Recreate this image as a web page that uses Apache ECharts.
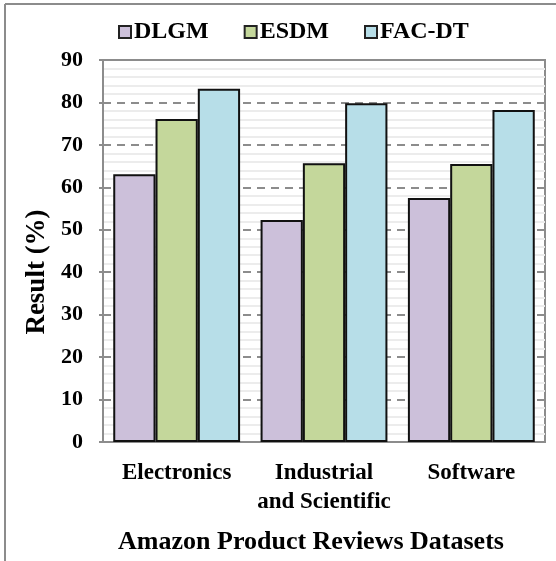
<!DOCTYPE html>
<html>
<head>
<meta charset="utf-8">
<script src="https://cdn.jsdelivr.net/npm/echarts@6/dist/echarts.min.js"></script>
<style>
  html, body { margin: 0; padding: 0; background: #fff; }
  #chart { width: 556px; height: 561px; }
</style>
</head>
<body>
<div id="chart"></div>
<script>
// 数据
const categories = ['Electronics', 'Industrial\nand Scientific', 'Software'];
const seriesNames = ['DLGM', 'ESDM', 'FAC-DT'];
const dlgm = [63.1, 52.3, 57.5];
const esdm = [76.1, 65.7, 65.5];
const facdt = [83.2, 79.8, 78.2];
const yTicks = [0, 10, 20, 30, 40, 50, 60, 70, 80, 90];

const colors = ['#CCC0DA', '#C4D79B', '#B7DEE8'];
const font = 'Liberation Serif';

const chart = echarts.init(document.getElementById('chart'), null, { renderer: 'canvas' });

const values = [dlgm, esdm, facdt];
const series = seriesNames.map((name, i) => ({
  name: name,
  type: 'bar',
  data: values[i],
  barWidth: '28.7%',
  barGap: '0%',
  itemStyle: { color: colors[i], borderColor: '#111', borderWidth: 2 }
}));

chart.setOption({
  animation: false,
  backgroundColor: '#fff',
  textStyle: { fontFamily: font },
  legend: {
    top: 15,
    left: 113,
    itemWidth: 12,
    itemHeight: 12,
    itemGap: 35,
    icon: 'rect',
    textStyle: { fontFamily: font, fontWeight: 'bold', fontSize: 24, color: '#000', padding: [0, 0, 0, -2] },
    itemStyle: { borderColor: '#222', borderWidth: 2 },
    data: seriesNames
  },
  grid: {
    left: 103,
    right: 11,
    top: 60,
    bottom: 119,
    show: true,
    borderColor: '#8c8c8c',
    borderWidth: 2
  },
  xAxis: {
    type: 'category',
    data: categories,
    axisLine: { lineStyle: { color: '#8c8c8c', width: 2 } },
    axisTick: { show: false },
    axisLabel: {
      color: '#000', fontFamily: font, fontWeight: 'bold', fontSize: 23,
      margin: 17, lineHeight: 29, interval: 0
    },
    name: 'Amazon Product Reviews Datasets',
    nameLocation: 'middle',
    nameGap: 87,
    nameTextStyle: {
      color: '#000', fontFamily: font, fontWeight: 'bold', fontSize: 26,
      padding: [0, 26, 0, 0]
    }
  },
  yAxis: {
    type: 'value',
    min: yTicks[0],
    max: yTicks[yTicks.length - 1],
    interval: 10,
    axisLine: { show: true, lineStyle: { color: '#8c8c8c', width: 2 } },
    axisTick: { show: true, length: 4, lineStyle: { color: '#8c8c8c', width: 2 } },
    axisLabel: { color: '#000', fontFamily: font, fontWeight: 'bold', fontSize: 22, margin: 20 },
    splitLine: { lineStyle: { color: '#8c8c8c', width: 2, type: [8, 6] } },
    minorTick: { show: false, splitNumber: 5 },
    minorSplitLine: { show: true, lineStyle: { color: '#ececec', width: 2 } }
  },
  graphic: [
    // 外框
    { type: 'line', shape: { x1: 5, y1: 4, x2: 556, y2: 4 }, style: { stroke: '#8c8c8c', lineWidth: 2 } },
    { type: 'line', shape: { x1: 5, y1: 4, x2: 5, y2: 561 }, style: { stroke: '#8c8c8c', lineWidth: 2 } },
    // y轴标题
    {
      type: 'text', x: 37, y: 272, rotation: Math.PI / 2,
      style: {
        text: 'Result (%)', fill: '#000', align: 'center', verticalAlign: 'middle',
        font: 'bold 27px "Liberation Serif"'
      }
    }
  ],
  series: series
});
</script>
</body>
</html>
